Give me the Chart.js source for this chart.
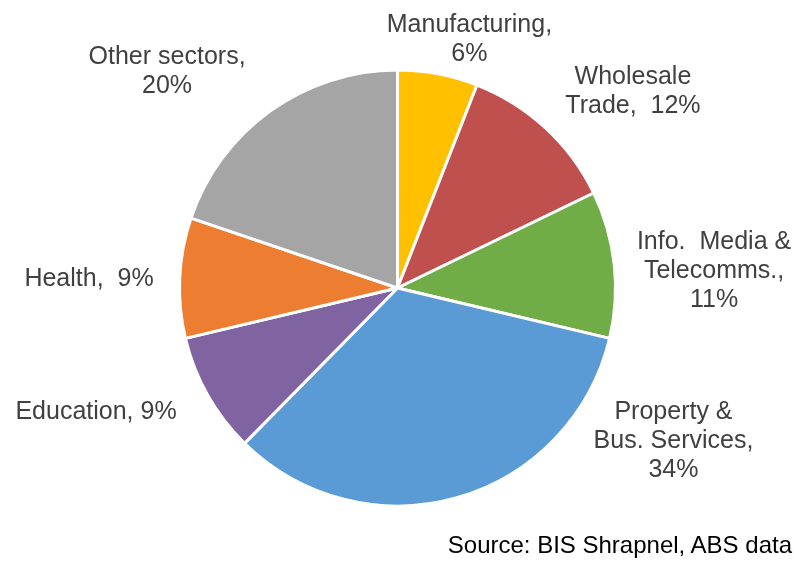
<!DOCTYPE html>
<html>
<head>
<meta charset="utf-8">
<script src="https://cdn.jsdelivr.net/npm/chart.js@4/dist/chart.umd.min.js"></script>
<style>
  html, body { margin: 0; padding: 0; background: #ffffff; }
  #wrap { position: relative; width: 794px; height: 563px; }
  #source {
    position: absolute; right: 2px; top: 533px;
    font-family: "Liberation Sans", Arial, sans-serif; font-size: 24px; line-height: 24px;
    color: #000000; white-space: nowrap;
  }
</style>
</head>
<body>
<div id="wrap">
  <canvas id="pie" width="794" height="563"></canvas>
  <div id="source">Source: BIS Shrapnel, ABS data</div>
</div>
<script>
// Sector shares (per cent), clockwise from 12 o'clock
const sectors = ['Manufacturing', 'Wholesale Trade', 'Info. Media & Telecomms.',
  'Property & Bus. Services', 'Education', 'Health', 'Other sectors'];
const shares = [6, 12, 11, 34, 9, 9, 20];
// Label text lines; the share is appended to the last line
const labelLines = [
  ['Manufacturing,', ''],
  ['Wholesale', 'Trade,  '],
  ['Info.  Media &', 'Telecomms.,', ''],
  ['Property &', 'Bus. Services,', ''],
  ['Education, '],
  ['Health,  '],
  ['Other sectors,', '']
];

const colours = ['#FFC000', '#C0504D', '#70AD47', '#5B9BD5', '#8064A2', '#ED7D31', '#A5A5A5'];
// Label block centres, in multiples of the pie radius from the pie centre
const labelSpots = [
  [0.330, -1.149], [1.080, -0.911], [1.452, -0.087], [1.266, 0.693],
  [-1.383, 0.560], [-1.415, -0.050], [-1.057, -1.002]
];

const FONT_SIZE = 25;
const LINE_H = 29;

const sliceLabels = {
  id: 'sliceLabels',
  afterDatasetsDraw(chart) {
    const ctx = chart.ctx;
    const meta = chart.getDatasetMeta(0);
    ctx.save();
    ctx.font = FONT_SIZE + 'px "Liberation Sans", Arial, sans-serif';
    ctx.fillStyle = '#404040';
    ctx.textAlign = 'center';
    ctx.textBaseline = 'alphabetic';
    meta.data.forEach((arc, i) => {
      const r = arc.outerRadius;
      const cx = arc.x + labelSpots[i][0] * r;
      const cy = arc.y + labelSpots[i][1] * r;
      const lines = labelLines[i].slice();
      lines[lines.length - 1] += shares[i] + '%';
      const top = cy - (lines.length - 1) * LINE_H / 2;
      lines.forEach((t, k) => {
        ctx.fillText(t, cx, top + k * LINE_H + 0.37 * FONT_SIZE);
      });
    });
    ctx.restore();
  }
};

new Chart(document.getElementById('pie'), {
  type: 'pie',
  data: {
    labels: sectors,
    datasets: [{
      data: shares,
      backgroundColor: colours,
      borderColor: '#ffffff',
      borderWidth: 3
    }]
  },
  options: {
    responsive: false,
    animation: false,
    rotation: 0,
    layout: { padding: { top: 68.5, bottom: 55.5, left: 178, right: 177 } },
    plugins: {
      legend: { display: false },
      tooltip: { enabled: false }
    }
  },
  plugins: [sliceLabels]
});
</script>
</body>
</html>
